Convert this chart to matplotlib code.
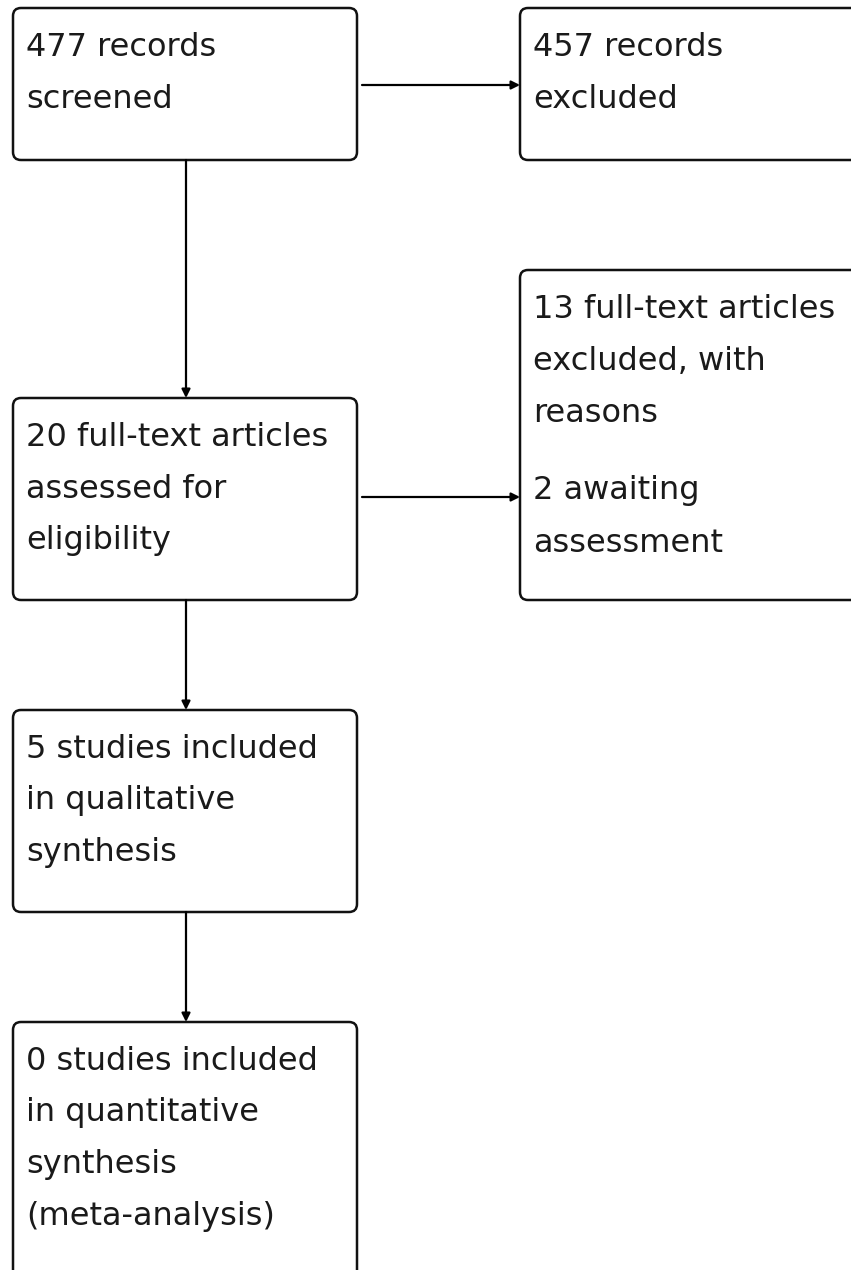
import matplotlib.pyplot as plt
from matplotlib.patches import FancyBboxPatch

# --- Flow diagram content ---
box_texts = [
    ['477 records', 'screened'],
    ['457 records', 'excluded'],
    ['13 full-text articles', 'excluded, with', 'reasons', None, '2 awaiting', 'assessment'],
    ['20 full-text articles', 'assessed for', 'eligibility'],
    ['5 studies included', 'in qualitative', 'synthesis'],
    ['0 studies included', 'in quantitative', 'synthesis', '(meta-analysis)'],
]

# box geometry in pixels: x0, y0, x1, y1 (y downwards)
boxes = [
    (13, 8, 357, 160),
    (520, 8, 862, 160),
    (520, 270, 862, 600),
    (13, 398, 357, 600),
    (13, 710, 357, 912),
    (13, 1022, 357, 1290),
]

# arrows: (x_start, y_start, x_end, y_end)
arrows = [
    (362, 85, 520, 85),
    (186, 160, 186, 398),
    (362, 497, 520, 497),
    (186, 600, 186, 710),
    (186, 912, 186, 1022),
]

W, H = 851, 1270
fig = plt.figure(figsize=(W / 100, H / 100), dpi=100)
ax = fig.add_axes([0, 0, 1, 1])
ax.set_xlim(0, W)
ax.set_ylim(H, 0)
ax.axis('off')

line_h = 52
for (x0, y0, x1, y1), lines in zip(boxes, box_texts):
    ax.add_patch(FancyBboxPatch((x0, y0), x1 - x0, y1 - y0,
                                boxstyle='round,pad=0,rounding_size=8',
                                fc='white', ec='#111111', lw=1.8))
    y = y0 + 39
    for ln in lines:
        if ln is None:
            y += line_h * 0.5
            continue
        ax.text(x0 + 13, y, ln, fontsize=23, family='DejaVu Sans',
                va='center', ha='left', color='#1a1a1a')
        y += line_h

for xs, ys, xe, ye in arrows:
    ax.annotate('', xy=(xe, ye), xytext=(xs, ys),
                arrowprops=dict(arrowstyle='-|>,head_length=0.5,head_width=0.25',
                                color='black', lw=1.6, shrinkA=0, shrinkB=0))

fig.savefig('out.png', dpi=100)
